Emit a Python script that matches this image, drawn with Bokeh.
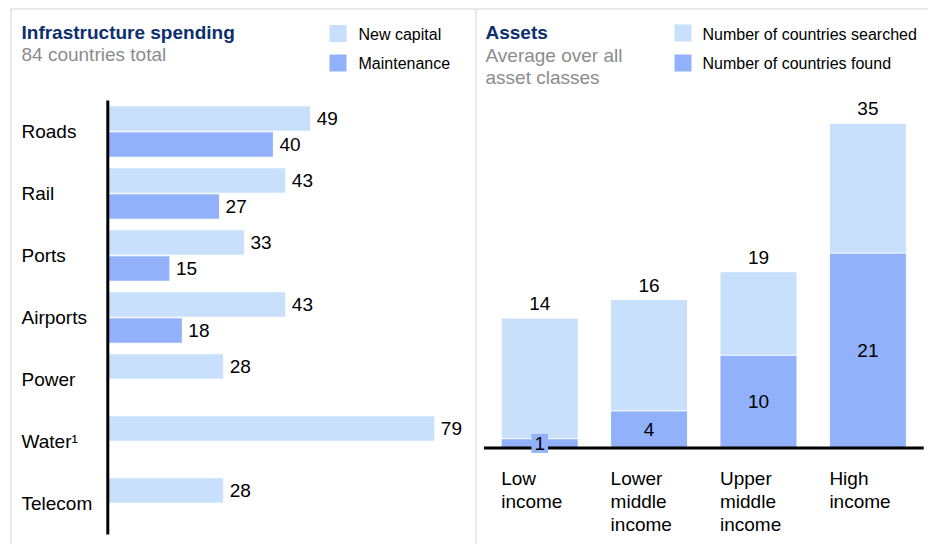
from bokeh.plotting import figure
from bokeh.layouts import row
from bokeh.models import Range1d, Label
from bokeh.embed import file_html
from bokeh.resources import INLINE
from bokeh.core.properties import value

# ---------------- data ----------------
infra_categories = ["Roads", "Rail", "Ports", "Airports", "Power", "Water\u00b9", "Telecom"]
new_capital = [49, 43, 33, 43, 28, 79, 28]
maintenance = [40, 27, 15, 18, None, None, None]

income_groups = ["Low\nincome", "Lower\nmiddle\nincome", "Upper\nmiddle\nincome", "High\nincome"]
countries_searched = [14, 16, 19, 35]
countries_found = [1, 4, 10, 21]

left_title = "Infrastructure spending"
left_subtitle = "84 countries total"
left_legend = ["New capital", "Maintenance"]
right_title = "Assets"
right_subtitle = ["Average over all", "asset classes"]
right_legend = ["Number of countries searched", "Number of countries found"]

# ---------------- style ----------------
LIGHT = "#c8e0fb"
DARK = "#91b1fb"
NAVY = "#0c2f6e"
GREY = "#8c8c8c"
BORDER = "#a8a8a8"
FONT = "Liberation Sans"
FS = "19px"
LFS = "16px"

H = 536          # figure height (page top margin 8 above)
FRAME_TOP = 9    # page px of the frame top
FRAME_BOT = 8 + H

common = dict(height=H, x_axis_type=None, y_axis_type=None, title=None,
              toolbar_location=None, output_backend="svg",
              min_border_left=1, min_border_top=1, min_border_right=0, min_border_bottom=0,
              border_fill_color=BORDER, background_fill_color="white",
              outline_line_color=None)

# ---------------- left panel ----------------
L_ZERO, L_PPU = 107.3, 4.14      # page px of value 0, px per unit
L_TOP, L_BAND = 100, 62          # page px of first band top, band height


def lx(px):
    return (px - L_ZERO) / L_PPU


def ly(py):
    return (py - L_TOP) / L_BAND


left = figure(width=465, x_range=Range1d(lx(11), lx(475)),
              y_range=Range1d(ly(FRAME_BOT), ly(FRAME_TOP)),
              margin=(8, 0, 0, 10), **common)

n = len(infra_categories)
centers = [i + 0.5 for i in range(n)]
BAR_H, OFF = 0.41, 0.21
y_new = [c - OFF for c in centers]
m_idx = [i for i, v in enumerate(maintenance) if v is not None]
y_m = [centers[i] + OFF for i in m_idx]
m_vals = [maintenance[i] for i in m_idx]

left.hbar(y=y_new, left=0, right=new_capital, height=BAR_H,
          fill_color=LIGHT, line_color="white", line_width=1)
left.hbar(y=y_m, left=0, right=m_vals, height=BAR_H,
          fill_color=DARK, line_color="white", line_width=1)

txt = dict(text_font=value(FONT), text_font_size=FS, text_color="black")
left.text(x=new_capital, y=y_new, text=[str(v) for v in new_capital], x_offset=6,
          text_baseline="middle", text_align="left", **txt)
left.text(x=m_vals, y=y_m, text=[str(v) for v in m_vals], x_offset=6,
          text_baseline="middle", text_align="left", **txt)
left.text(x=lx(21), y=centers, text=infra_categories,
          text_baseline="middle", text_align="left", **txt)

left.segment(x0=0, y0=0, x1=0, y1=n, line_color="black", line_width=3)

left.add_layout(Label(x=lx(21), y=ly(32), text=left_title, text_font=FONT,
                      text_font_size=FS, text_font_style="bold", text_color=NAVY,
                      text_baseline="middle"))
left.add_layout(Label(x=lx(21), y=ly(54), text=left_subtitle, text_font=FONT,
                      text_font_size=FS, text_color=GREY, text_baseline="middle"))
left.scatter(x=[lx(337.5)] * 2, y=[ly(33), ly(62.5)], marker="square", size=17,
             fill_color=[LIGHT, DARK], line_color=None)
for t, c in zip(left_legend, [34, 63]):
    left.add_layout(Label(x=lx(358), y=ly(c), text=t, text_font=FONT,
                          text_font_size=LFS, text_color="black",
                          text_baseline="middle"))

# ---------------- right panel ----------------
R_X0, R_PITCH = 539.2, 109.4     # page px of first bar centre, bar pitch
R_ZERO, R_PPU = 447.5, 9.28      # page px of value 0, px per unit


def rx(px):
    return (px - R_X0) / R_PITCH


def ry(py):
    return (R_ZERO - py) / R_PPU


right = figure(width=453, x_range=Range1d(rx(476), rx(928)),
               y_range=Range1d(ry(FRAME_BOT), ry(FRAME_TOP)),
               margin=(8, 0, 0, 0), **common)

k = len(income_groups)
xs = list(range(k))
BAR_W = 0.704
right.vbar(x=xs, bottom=0, top=countries_searched, width=BAR_W,
           fill_color=LIGHT, line_color="white", line_width=1)
right.vbar(x=xs, bottom=0, top=countries_found, width=BAR_W,
           fill_color=DARK, line_color="white", line_width=1)
right.segment(x0=-0.51, y0=0, x1=k - 1 + 0.51, y1=0, line_color="black", line_width=3)

right.text(x=xs, y=[v + 14.5 / R_PPU for v in countries_searched],
           text=[str(v) for v in countries_searched],
           text_baseline="middle", text_align="center", **txt)
right.text(x=xs, y=[v / 2 for v in countries_found],
           text=[str(v) for v in countries_found],
           text_baseline="middle", text_align="center",
           background_fill_color=DARK, padding=3, **txt)
right.text(x=[x - BAR_W / 2 for x in xs], y=ry(467), text=income_groups,
           text_baseline="top", text_align="left", text_line_height=1.1, **txt)

right.add_layout(Label(x=rx(485), y=ry(32), text=right_title, text_font=FONT,
                       text_font_size=FS, text_font_style="bold", text_color=NAVY,
                       text_baseline="middle"))
for t, c in zip(right_subtitle, [55, 77]):
    right.add_layout(Label(x=rx(485), y=ry(c), text=t, text_font=FONT,
                           text_font_size=FS, text_color=GREY, text_baseline="middle"))
right.scatter(x=[rx(682.5)] * 2, y=[ry(32.5), ry(62.5)], marker="square", size=17,
              fill_color=[LIGHT, DARK], line_color=None)
for t, c in zip(right_legend, [34, 63]):
    right.add_layout(Label(x=rx(702), y=ry(c), text=t, text_font=FONT,
                           text_font_size=LFS, text_color="black",
                           text_baseline="middle"))

layout = row(left, right)
open("out.html", "w").write(file_html(layout, INLINE))
